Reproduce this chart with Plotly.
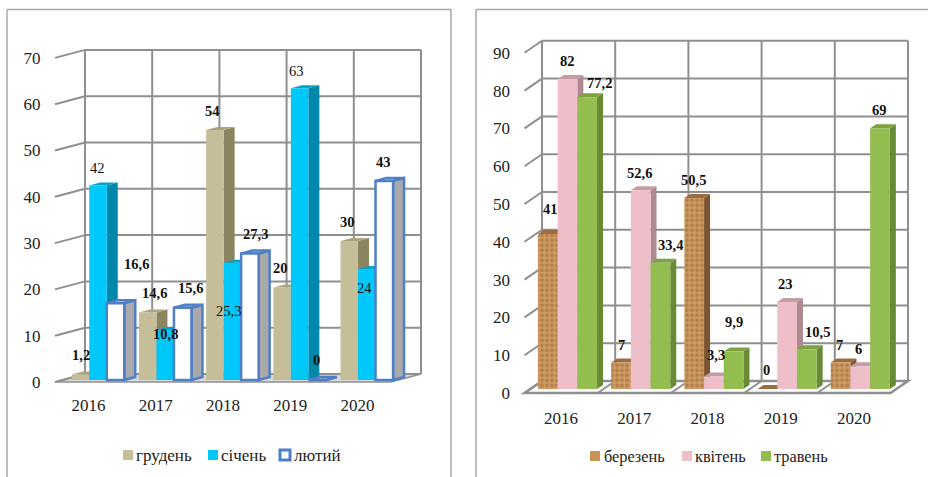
import plotly.graph_objects as go

years = ["2016", "2017", "2018", "2019", "2020"]

# Left chart values
hruden = [1.2, 14.6, 54, 20, 30]
sichen = [42, 10.8, 25.3, 63, 24]
liutyi = [16.6, 15.6, 27.3, 0, 43]
left_ticks = [0, 10, 20, 30, 40, 50, 60, 70]

# Right chart values
berezen = [41, 7, 50.5, 0, 7]
kviten = [82, 52.6, 3.3, 23, 6]
traven = [77.2, 33.4, 9.9, 10.5, 69]
right_ticks = [0, 10, 20, 30, 40, 50, 60, 70, 80, 90]

W, H = 928, 477
FONT = "Liberation Serif"
GRID = "#8f8f8f"


def px(x):
    return x / W


def py(y):
    return 1 - y / H


fig = go.Figure()
shapes = []
annotations = []


def line(x0, y0, x1, y1, color=GRID, width=2):
    shapes.append(dict(type="line", xref="paper", yref="paper", layer="below",
                       x0=px(x0), y0=py(y0), x1=px(x1), y1=py(y1),
                       line=dict(color=color, width=width)))


def poly(points, fill, color=GRID, width=2):
    path = "M " + " L ".join(f"{px(a):.5f},{py(b):.5f}" for a, b in points) + " Z"
    shapes.append(dict(type="path", xref="paper", yref="paper", layer="below", path=path,
                       fillcolor=fill, line=dict(color=color, width=width)))


def chart(g, series, ticks, ax_ids):
    bx_id, by_id, ox_id, oy_id = ax_ids
    n = len(years)
    right_px = g["x0"] + g["wall_dx"] + n * g["slot"]
    top_px = g["y0"] - g["wall_dy"] - ticks[-1] * g["unit"] - 3
    x_hi = -0.5 + (right_px + 3 - g["x0"]) / g["slot"]
    y_hi = (g["y0"] - top_px) / g["unit"]
    sx, sy = g["bar_dx"] / g["slot"], g["bar_dy"] / g["unit"]
    ddx, ddy = g["depth_dx"] / g["slot"], g["depth_dy"] / g["unit"]
    w = g["width"] / g["slot"]
    domx = [px(g["x0"]), px(right_px + 3)]
    domy = [py(g["y0"]), py(top_px)]

    # walls, floor and slanted tick stubs
    back_l = g["x0"] + g["wall_dx"]
    back_y0 = g["y0"] - g["wall_dy"]
    poly([(g["x0"], g["y0"]), (back_l, back_y0), (back_l + n * g["slot"], back_y0),
          (g["x0"] + n * g["slot"], g["y0"])], g["floor"], GRID, g["floor_w"])
    for t in ticks:
        yb = back_y0 - t * g["unit"]
        yf = g["y0"] - t * g["unit"]
        line(back_l, yb, back_l + n * g["slot"], yb)
        line(g["x0"], yf, back_l, yb)
    for i in range(n + 1):
        xb = back_l + i * g["slot"]
        line(xb, back_y0, xb, back_y0 - ticks[-1] * g["unit"])
        if g["dividers"] and 0 < i < n:
            line(g["x0"] + i * g["slot"], g["y0"], xb, back_y0)

    axis_base = dict(showgrid=False, zeroline=False, showline=False, ticks="outside", automargin=False,
                     tickcolor="rgba(0,0,0,0)", tickfont=dict(family=FONT, size=17, color="#222"))
    fig.layout[bx_id[0] + "axis" + bx_id[1:]] = dict(
        axis_base, domain=domx, range=[-0.5, x_hi], tickmode="array",
        tickvals=list(range(n)), ticktext=years, ticklen=g["xtick"], anchor=by_id)
    fig.layout[by_id[0] + "axis" + by_id[1:]] = dict(
        axis_base, domain=domy, range=[0, y_hi], tickmode="array",
        tickvals=ticks, ticktext=[str(t) for t in ticks], ticklen=g["ytick"], anchor=bx_id)
    fig.layout[ox_id[0] + "axis" + ox_id[1:]] = dict(
        domain=domx, range=[-0.5 - sx, x_hi - sx], visible=False, automargin=False,
        overlaying=bx_id, anchor=oy_id)
    fig.layout[oy_id[0] + "axis" + oy_id[1:]] = dict(
        domain=domy, range=[-sy, y_hi - sy], visible=False, automargin=False,
        overlaying=by_id, anchor=ox_id)

    for s, sr in enumerate(series):
        off = (s - 1) * w
        sx_pts, sy_pts, tx_pts, ty_pts = [], [], [], []
        for c, v in enumerate(sr["values"]):
            l = c + sx + off - w / 2
            r = l + w
            b = sy
            t = v + sy
            sx_pts += [r, r + ddx, r + ddx, r, r, None]
            sy_pts += [t, t + ddy, b + ddy, b, t, None]
            tx_pts += [l, l + ddx, r + ddx, r, l, None]
            ty_pts += [t, t + ddy, t + ddy, t, t, None]
        lw = sr.get("edge_w", 0)
        ec = sr.get("edge", "rgba(0,0,0,0)")
        for xs, ys, col in ((sx_pts, sy_pts, sr["side"]), (tx_pts, ty_pts, sr["top"])):
            fig.add_trace(go.Scatter(x=xs, y=ys, mode="lines", fill="toself", fillcolor=col,
                                     line=dict(color=ec, width=lw), hoverinfo="skip",
                                     showlegend=False, xaxis=bx_id, yaxis=by_id))

    for s, sr in enumerate(series):
        off = (s - 1) * w
        marker = dict(color=sr["front"], line=dict(color=sr.get("edge", sr["front"]), width=sr.get("edge_w", 0)))
        if "pattern" in sr:
            marker["pattern"] = sr["pattern"]
        fig.add_trace(go.Bar(x=list(range(n)), y=sr["values"], name=sr["name"], width=w,
                             offset=off - w / 2, marker=marker, showlegend=False,
                             xaxis=ox_id, yaxis=oy_id))
        for c, v in enumerate(sr["values"]):
            dx, dy, bold = sr["labels"][c]
            txt = f"{v:g}".replace(".", ",")
            annotations.append(dict(xref=ox_id, yref=oy_id, x=c + off, y=v, xshift=dx, yshift=dy,
                                    text=f"<b>{txt}</b>" if bold else txt, showarrow=False,
                                    xanchor="center", yanchor="middle",
                                    font=dict(family=FONT, size=14.5, color="#111")))

    # legend row
    for sr in series:
        lx = sr["legend_x"]
        y = g["legend_y"]
        if sr.get("edge"):
            shapes.append(dict(type="rect", xref="paper", yref="paper", x0=px(lx + 1), x1=px(lx + 11),
                               y0=py(y - 5), y1=py(y + 5), fillcolor="white",
                               line=dict(color=sr["edge"], width=3)))
        else:
            shapes.append(dict(type="rect", xref="paper", yref="paper", x0=px(lx), x1=px(lx + 10),
                               y0=py(y - 5), y1=py(y + 5), fillcolor=sr["front"], line=dict(width=0)))
        annotations.append(dict(xref="paper", yref="paper", x=px(sr["legend_tx"] - 1), y=py(y),
                                text=sr["name"], showarrow=False, xanchor="left", yanchor="middle",
                                font=dict(family=FONT, size=g["legend_size"], color="#222")))


# panel frames
for pts in ([(7, 477), (7, 9.5), (451, 9.5), (451, 477)], [(476, 477), (476, 9.5), (928, 9.5)]):
    for a, b in zip(pts, pts[1:]):
        line(a[0], a[1], b[0], b[1], color="#a8a8a8", width=1.5)

left_geom = dict(x0=55, slot=67.2, y0=382, unit=4.63, wall_dx=30, wall_dy=8, bar_dx=9.4, bar_dy=2,
                 depth_dx=11, depth_dy=3, width=17.5, xtick=8, ytick=10, floor="#d9d9d9", floor_w=1.5,
                 dividers=False, legend_y=455, legend_size=17)
left_series = [
    dict(name="грудень", values=hruden, front="#c6be98", side="#8a8560", top="#aaa47e",
         legend_x=123, legend_tx=135,
         labels=[(0, 19, True), (7, 19, True), (-2, 19, True), (-2, 19, True), (-2, 19, True)]),
    dict(name="січень", values=sichen, front="#00c8fb", side="#0087aa", top="#00a3cc",
         legend_x=208, legend_tx=220,
         labels=[(-1, 18, False), (0, -4, True), (-4, -48, False), (-3, 17, False), (-2, -19, False)]),
    dict(name="лютий", values=liutyi, front="#ffffff", side="#a9a9ab", top="#d9e2f0",
         edge="#4f7fc4", edge_w=2.5, legend_x=279, legend_tx=293,
         labels=[(21, 39, True), (8, 20, True), (6, 20, True), (-1, 20, True), (-1, 19, True)]),
]
chart(left_geom, left_series, left_ticks, ("x", "y", "x2", "y2"))

right_geom = dict(x0=524.5, slot=73.2, y0=393, unit=3.78, wall_dx=17.5, wall_dy=12, bar_dx=6.4, bar_dy=4,
                  depth_dx=6, depth_dy=4, width=19.7, xtick=10, ytick=10, floor="#ffffff", floor_w=2.5,
                  dividers=True, legend_y=456, legend_size=16.3)
right_series = [
    dict(name="березень", values=berezen, front="#c99358", side="#7c5530", top="#9c6c3e",
         pattern=dict(shape=".", fgcolor="#96632f", bgcolor="#cf9c64", size=5, solidity=0.45),
         legend_x=590, legend_tx=603,
         labels=[(3, 25, True), (0, 18, True), (-1, 18, True), (-1, 19, True), (-1, 18, True)]),
    dict(name="квітень", values=kviten, front="#eebfc8", side="#ae8a90", top="#c49ca3",
         legend_x=682, legend_tx=694,
         labels=[(0, 18, True), (-1, 17, True), (2, 22, True), (-2, 18, True), (-2, 17, True)]),
    dict(name="травень", values=traven, front="#94bd4f", side="#688a34", top="#7ea240",
         legend_x=761, legend_tx=773,
         labels=[(12, 14, True), (10, 18, True), (0, 30, True), (11, 17, True), (-1, 18, True)]),
]
chart(right_geom, right_series, right_ticks, ("x3", "y3", "x4", "y4"))

fig.update_layout(width=W, height=H, autosize=False, margin=dict(l=0, r=0, t=0, b=0, pad=0),
                  paper_bgcolor="white", plot_bgcolor="rgba(0,0,0,0)", showlegend=False,
                  shapes=shapes, annotations=annotations, font=dict(family=FONT))

fig.write_html("out.html", config={"displayModeBar": False},
               post_script="document.body.style.margin='0';document.body.style.overflow='hidden';")
